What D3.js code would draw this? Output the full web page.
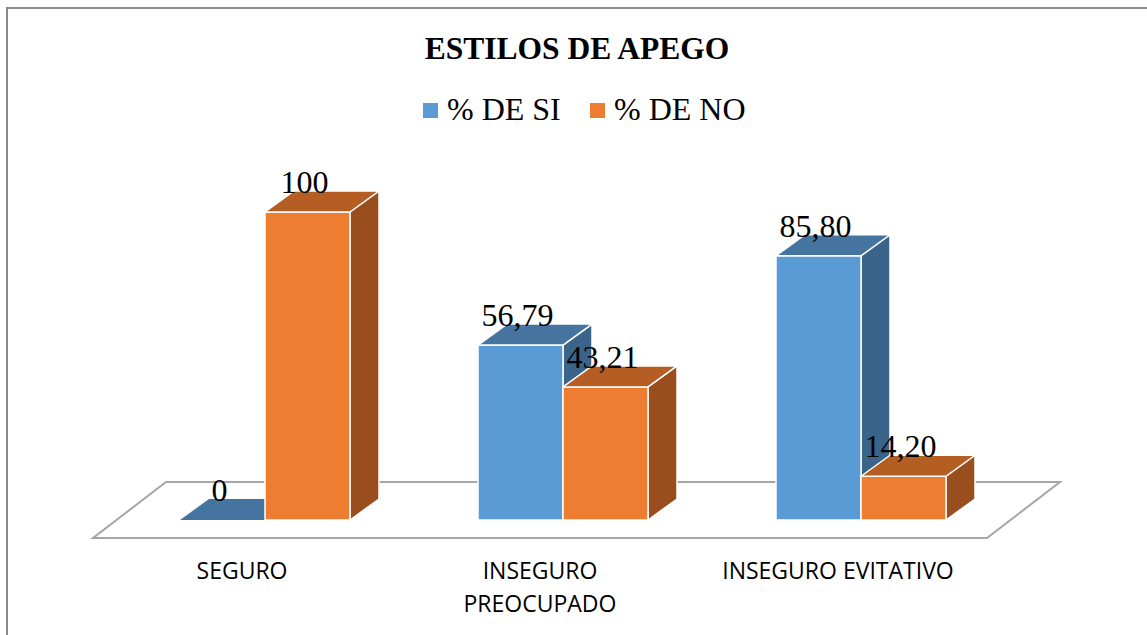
<!DOCTYPE html>
<html>
<head>
<meta charset="utf-8">
<script src="https://cdn.jsdelivr.net/npm/d3@7"></script>
<style>
  body { margin: 0; background: #fff; }
  svg { display: block; }
  .serif { font-family: "Liberation Serif", "Times New Roman", Times, serif; }
  .sans { font-family: "Open Sans", "Liberation Sans", sans-serif; }
</style>
</head>
<body>
<script>
// datos
var categorias = ["SEGURO", "INSEGURO|PREOCUPADO", "INSEGURO EVITATIVO"];
var series = ["% DE SI", "% DE NO"];
var valoresSi = [0, 56.79, 85.80];
var valoresNo = [100, 43.21, 14.20];
var yDominio = [0, 100];

var width = 1147, height = 635;
var colores = {
  "% DE SI": {front: "#5B9BD5", top: "#44749F", side: "#3A6489"},
  "% DE NO": {front: "#ED7D31", top: "#B45E24", side: "#9A4E1D"}
};
var dx = 29, dy = -21; // profundidad de las barras

var svg = d3.select("body").append("svg").attr("width", width).attr("height", height);

// borde del grafico
svg.append("rect").attr("x", 7).attr("y", 8).attr("width", width + 20).attr("height", height + 20)
  .attr("fill", "none").attr("stroke", "#8c8c8c").attr("stroke-width", 2);

var x0 = d3.scaleBand().domain(categorias).range([116, 1010]);
var x1 = d3.scaleBand().domain(series).range([0, x0.bandwidth()]).paddingOuter(0.753);
var y = d3.scaleLinear().domain(yDominio).range([520, 212]);

// piso
var r0 = x0.range()[0], r1 = x0.range()[1], yb = y(0);
var piso = [[r0 - 23, yb + 18], [r1 - 23, yb + 18], [r1 + 50, yb - 38], [r0 + 50, yb - 38]];
svg.append("path").attr("d", "M" + piso.join("L") + "Z")
  .attr("fill", "#fff").attr("stroke", "#a6a6a6").attr("stroke-width", 2);

var datos = [];
categorias.forEach(function(c, i){
  datos.push({cat: c, serie: series[0], valor: valoresSi[i]});
  datos.push({cat: c, serie: series[1], valor: valoresNo[i]});
});

var g = svg.append("g");
datos.forEach(function(d){
  var xl = x0(d.cat) + x1(d.serie), xr = xl + x1.bandwidth();
  var yt = y(d.valor);
  var col = colores[d.serie];
  var barra = g.append("g").attr("stroke", "#fff").attr("stroke-width", 1.5).attr("stroke-linejoin", "round");
  // lado
  barra.append("path")
    .attr("d", "M" + [[xr, yt], [xr + dx, yt + dy], [xr + dx, yb + dy], [xr, yb]].join("L") + "Z")
    .attr("fill", col.side);
  // frente
  barra.append("rect").attr("x", xl).attr("y", yt).attr("width", xr - xl).attr("height", yb - yt)
    .attr("fill", col.front);
  // tapa
  barra.append("path")
    .attr("d", "M" + [[xl, yt], [xr, yt], [xr + dx, yt + dy], [xl + dx, yt + dy]].join("L") + "Z")
    .attr("fill", col.top).attr("stroke-width", d.valor === 0 ? 0 : 1.5);
});

// etiquetas de valores
function fmt(v){ return Number.isInteger(v) ? String(v) : d3.format(".2f")(v).replace(".", ","); }
svg.append("g").attr("class", "serif").selectAll("text").data(datos).join("text")
  .attr("x", function(d){ return x0(d.cat) + x1(d.serie) + x1.bandwidth() / 2 - 3; })
  .attr("y", function(d){ return y(d.valor) + dy + 2; })
  .attr("text-anchor", "middle")
  .attr("font-size", 32).attr("fill", "#000")
  .text(function(d){ return fmt(d.valor); });

// etiquetas del eje
var ejeX = svg.append("g").attr("class", "sans").attr("font-size", 23).attr("fill", "#000");
categorias.forEach(function(c){
  var t = ejeX.append("text").attr("x", x0(c) + x0.bandwidth() / 2 - 23).attr("y", 579).attr("text-anchor", "middle");
  c.split("|").forEach(function(linea, k){
    t.append("tspan").attr("x", x0(c) + x0.bandwidth() / 2 - 23).attr("dy", k === 0 ? 0 : 33).text(linea);
  });
});

// titulo
svg.append("text").attr("class", "serif").attr("x", 577).attr("y", 59).attr("text-anchor", "middle")
  .attr("font-weight", "bold").attr("font-size", 31.5).text("ESTILOS DE APEGO");

// leyenda
var legX = [423, 590];
var leyenda = svg.append("g").selectAll("g").data(series).join("g")
  .attr("transform", function(d, i){ return "translate(" + legX[i] + ",103)"; });
leyenda.append("rect").attr("width", 15).attr("height", 15)
  .attr("fill", function(d){ return colores[d].front; });
leyenda.append("text").attr("class", "serif").attr("x", 24).attr("y", 17)
  .attr("font-size", 32)
  .text(function(d){ return d; });
</script>
</body>
</html>
